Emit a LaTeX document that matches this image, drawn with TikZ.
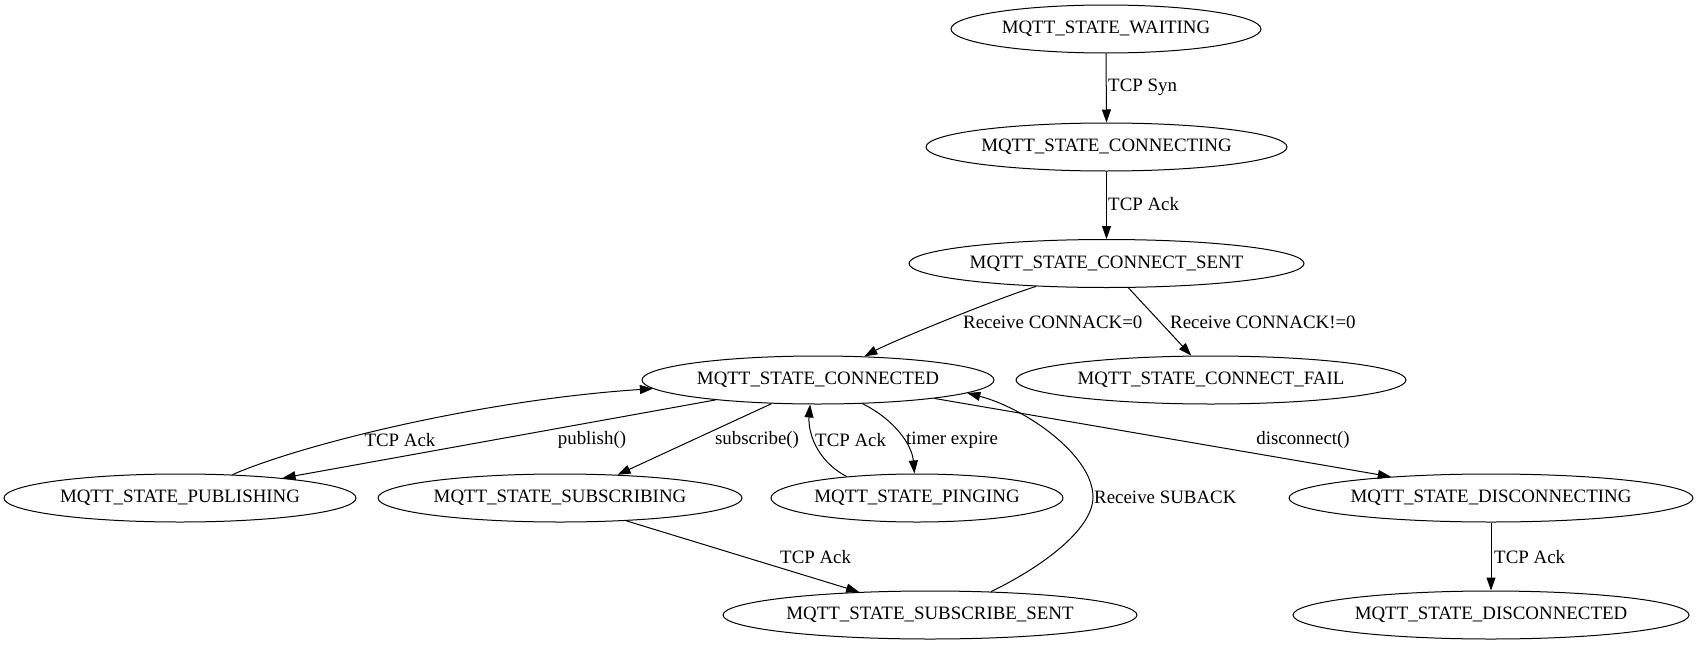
\documentclass[tikz,border=0pt]{standalone}
\usepackage{fontspec}
\setmainfont{Liberation Serif}
\usetikzlibrary{arrows.meta,shapes.geometric}
\begin{document}
\begin{tikzpicture}[x=1pt,y=-1pt,
  every node/.style={font=\fontsize{18.9}{22}\selectfont},
  st/.style={draw, ellipse, line width=1pt, inner sep=0pt, minimum height=48pt},
  lbl/.style={inner sep=0pt},
  arr/.style={line width=1pt, -{Triangle[length=13pt,width=9pt]}}]
\fill[white] (0,0) rectangle (1699,645);
\useasboundingbox (0,0) rectangle (1699,645);

\node[st, minimum width=310pt] (wait) at (1106,29) {\makebox[0pt]{MQTT\_STATE\_WAITING}};
\node[st, minimum width=361pt] (cing) at (1106.5,147) {\makebox[0pt]{MQTT\_STATE\_CONNECTING}};
\node[st, minimum width=395pt] (csent) at (1106.5,263.5) {\makebox[0pt]{MQTT\_STATE\_CONNECT\_SENT}};
\node[st, minimum width=352pt] (conn) at (818,380) {\makebox[0pt]{MQTT\_STATE\_CONNECTED}};
\node[st, minimum width=390pt] (fail) at (1211,380) {\makebox[0pt]{MQTT\_STATE\_CONNECT\_FAIL}};
\node[st, minimum width=352pt] (pub) at (180,498) {\makebox[0pt]{MQTT\_STATE\_PUBLISHING}};
\node[st, minimum width=364pt] (sub) at (560,498) {\makebox[0pt]{MQTT\_STATE\_SUBSCRIBING}};
\node[st, minimum width=292pt] (ping) at (917,498) {\makebox[0pt]{MQTT\_STATE\_PINGING}};
\node[st, minimum width=404pt] (disc) at (1491,498) {\makebox[0pt]{MQTT\_STATE\_DISCONNECTING}};
\node[st, minimum width=414pt] (ssent) at (930,615) {\makebox[0pt]{MQTT\_STATE\_SUBSCRIBE\_SENT}};
\node[st, minimum width=396pt] (dcted) at (1491,615) {\makebox[0pt]{MQTT\_STATE\_DISCONNECTED}};

\draw[arr] (wait.south) -- (cing.north);
\draw[arr] (cing.south) -- (csent.north);
\draw[arr] (csent.198.4) .. controls (996,299) and (893,341) .. (conn.27);
\draw[arr] (csent.312.5) -- (fail.129.6);
\draw[arr] (pub.24.7) .. controls (300,445) and (480,400) .. (conn.183.1);
\draw[arr] (conn.191.8) -- (pub.11.3);
\draw[arr] (conn.207) -- (sub.22.9);
\draw[arr] (ping.163.9) .. controls (815,460) and (808,430) .. (conn.252.6);
\draw[arr] (conn.332.5) .. controls (895,420) and (912,445) .. (ping.96);
\draw[arr] (ssent.21.1) .. controls (1040,568) and (1093,530) .. (1093,497) .. controls (1093,455) and (1025,408) .. (conn.355);
\draw[arr] (sub.341.2) -- (ssent.162.3);
\draw[arr] (conn.351.8) -- (disc.168.2);
\draw[arr] (disc.south) -- (dcted.north);

\node[lbl, anchor=west] (l1) at (1108,87) {TCP Syn};
\node[lbl, anchor=west] (l2) at (1108,204) {TCP Ack};
\node[lbl, anchor=west] (l3) at (963,322) {Receive CONNACK=0};
\node[lbl, anchor=west] (l4) at (1170,322) {Receive CONNACK!=0};
\node[lbl] (l5) at (400,440) {TCP Ack};
\node[lbl] (l6) at (592,440) {publish()};
\node[lbl] (l7) at (757,440) {subscribe()};
\node[lbl, anchor=west] (l8) at (815,440) {TCP Ack};
\node[lbl, anchor=west] (l9) at (906,440) {timer expire};
\node[lbl] (l10) at (1303,440) {disconnect()};
\node[lbl, anchor=west] (l11) at (1094,497) {Receive SUBACK};
\node[lbl, anchor=west] (l12) at (780,557) {TCP Ack};
\node[lbl, anchor=west] (l13) at (1494,557) {TCP Ack};
\end{tikzpicture}
\end{document}
